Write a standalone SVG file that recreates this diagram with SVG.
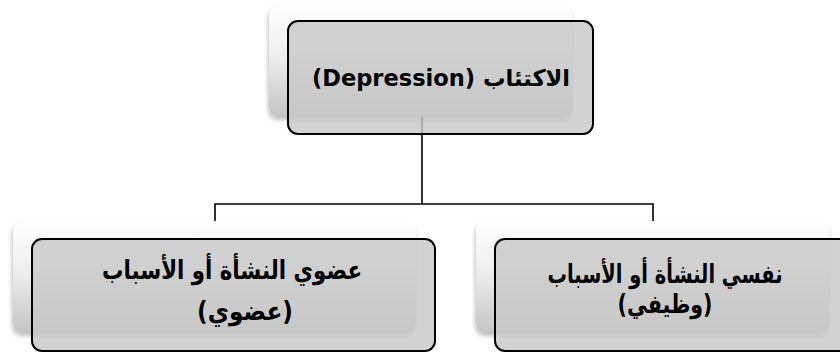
<svg xmlns="http://www.w3.org/2000/svg" width="840" height="352" viewBox="0 0 840 352">
<defs>
<linearGradient id="cardGrad" x1="0" y1="0" x2="0" y2="1">
<stop offset="0" stop-color="#ffffff"/>
<stop offset="0.45" stop-color="#eeeeee"/>
<stop offset="1" stop-color="#c4c4c4"/>
</linearGradient>
<filter id="shadow" x="-10%" y="-10%" width="120%" height="130%">
<feDropShadow dx="-1" dy="3" stdDeviation="2" flood-color="#000" flood-opacity="0.25"/>
</filter>
</defs>
<style>
.card{fill:url(#cardGrad);filter:url(#shadow);}
.box{fill:#c8c8c8;fill-opacity:0.82;stroke:#000;stroke-width:2;}
.conn{fill:none;stroke:#000;stroke-width:1.6;}
.lbl{font-family:"DejaVu Sans","Open Sans",sans-serif;font-weight:bold;fill:#000;text-anchor:middle;direction:rtl;unicode-bidi:embed;}
.ar{font-family:"DejaVu Sans Condensed","DejaVu Sans",sans-serif;font-size:26px;}
</style>
<rect width="840" height="352" fill="#ffffff"/>
<g id="connectors">
<path class="conn" d="M422,117 V204"/>
<path class="conn" d="M215,221 V204 H653 V221"/>
</g>
<g id="node-root">
<rect class="card" x="269" y="5" width="304" height="112" rx="10"/>
<rect class="box" x="288" y="21" width="305" height="113" rx="10"/>
<text class="lbl" x="441" y="86" font-size="23" textLength="258" lengthAdjust="spacingAndGlyphs">الاكتئاب (Depression)</text>
</g>
<g id="node-organic">
<rect class="card" x="13" y="221" width="403" height="112" rx="10"/>
<rect class="box" x="32" y="239" width="403" height="112" rx="10"/>
<text class="lbl ar" x="232" y="279" textLength="260" lengthAdjust="spacingAndGlyphs">عضوي النشأة أو الأسباب</text>
<text class="lbl ar" x="245" y="320" textLength="96" lengthAdjust="spacingAndGlyphs">(عضوي)</text>
</g>
<g id="node-psych">
<rect class="card" x="476" y="221" width="354" height="112" rx="10"/>
<rect class="box" x="495" y="239" width="403" height="112" rx="10"/>
<text class="lbl ar" x="665" y="283" textLength="235" lengthAdjust="spacingAndGlyphs">نفسي النشأة أو الأسباب</text>
<text class="lbl ar" x="665" y="313" textLength="95" lengthAdjust="spacingAndGlyphs">(وظيفي)</text>
</g>
</svg>
